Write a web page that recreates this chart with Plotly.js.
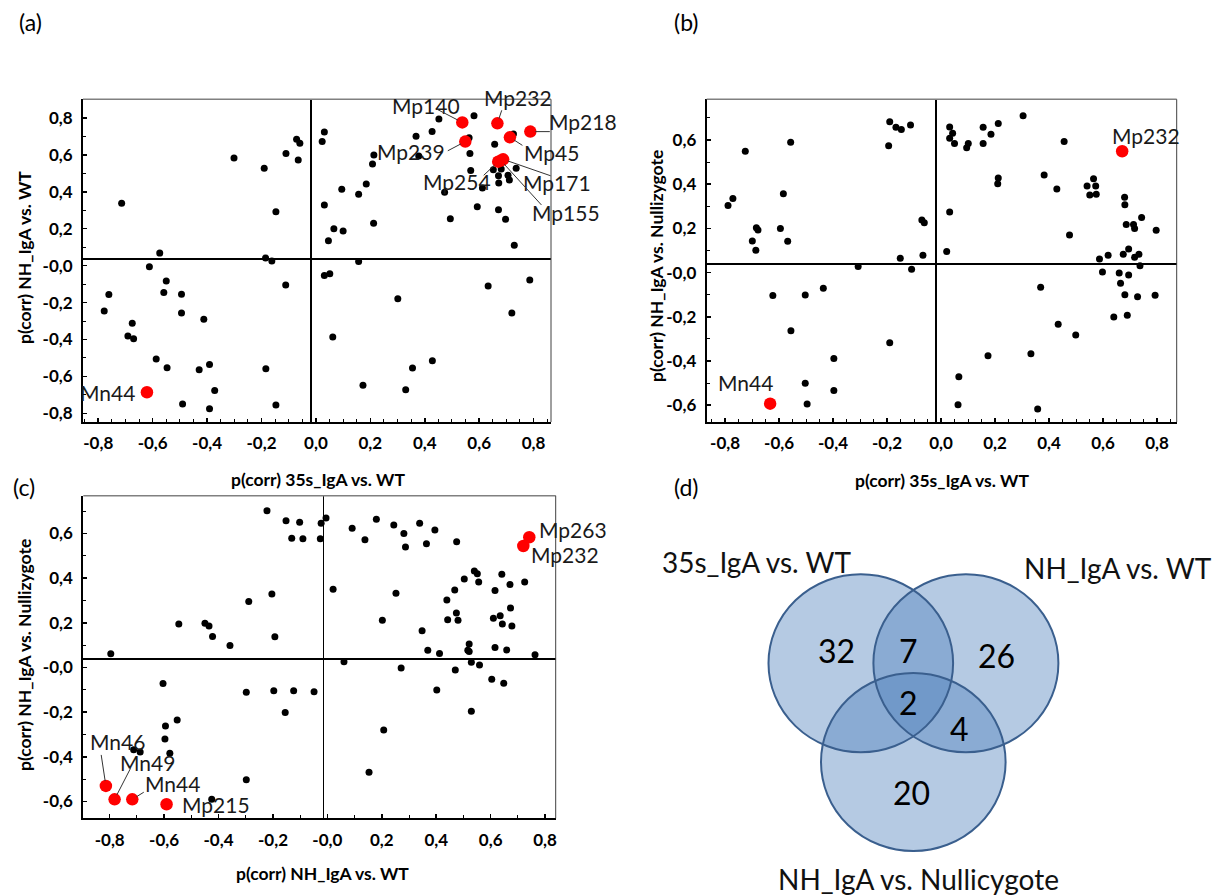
<!DOCTYPE html>
<html><head><meta charset="utf-8">
<script src="https://cdn.plot.ly/plotly-3.0.1.min.js"></script>
<style>html,body{margin:0;padding:0;background:#fff}#chart{width:1216px;height:896px}</style>
</head><body><div id="chart"></div>
<script>
// ---------- Panel (a): x = p(corr) 35s_IgA vs. WT, y = p(corr) NH_IgA vs. WT ----------
const aBlackX = [-0.696,-0.556,-0.594,-0.532,-0.541,-0.476,-0.476,-0.394,-0.743,-0.760,-0.657,-0.673,-0.652,-0.569,-0.529,-0.411,-0.373,-0.354,-0.472,-0.373,-0.166,-0.129,-0.093,-0.167,-0.144,-0.129,-0.283,-0.172,-0.092,-0.053,-0.041,-0.047,
  0.049,0.041,0.231,0.226,0.386,0.445,0.470,0.599,0.396,0.581,0.584,0.675,0.744,0.587,0.670,0.699,0.689,0.724,0.729,0.690,0.754,0.630,0.491,0.611,0.689,0.715,0.512,0.747,0.113,0.175,0.203,0.049,0.084,0.118,0.064,0.230,0.175,0.049,0.069,0.319,0.080,0.191,0.348,0.373,0.446,0.651,0.738,0.804];
const aBlackY = [0.302,0.032,-0.042,-0.119,-0.182,-0.191,-0.293,-0.327,-0.193,-0.282,-0.348,-0.417,-0.432,-0.542,-0.589,-0.600,-0.572,-0.713,-0.785,-0.811,-0.594,-0.791,-0.141,0.005,-0.011,0.256,0.547,0.491,0.572,0.648,0.627,0.536,
  0.688,0.636,0.563,0.515,0.665,0.690,0.758,0.776,0.558,0.657,0.572,0.621,0.677,0.480,0.484,0.488,0.451,0.453,0.428,0.412,0.491,0.385,0.361,0.283,0.267,0.215,0.218,0.074,0.378,0.350,0.406,0.293,0.164,0.152,0.099,0.193,-0.013,-0.090,-0.080,-0.215,-0.423,-0.684,-0.708,-0.590,-0.551,-0.146,-0.293,-0.114];
const aRedNames = ['Mn44','Mp140','Mp232','Mp218','Mp239','Mp45','Mp254','Mp171','Mp155'];
const aRedX = [-0.603,0.556,0.685,0.806,0.567,0.731,0.688,0.706,0.698];
const aRedY = [-0.722,0.740,0.735,0.690,0.636,0.659,0.527,0.540,0.533];

// ---------- Panel (b): x = p(corr) 35s_IgA vs. WT, y = p(corr) NH_IgA vs. Nullizygote ----------
const bBlackX = [-0.769,-0.751,-0.705,-0.664,-0.658,-0.679,-0.666,-0.575,-0.548,-0.564,-0.537,-0.603,-0.483,-0.416,-0.536,-0.377,-0.483,-0.377,-0.476,-0.287,-0.170,-0.147,-0.127,-0.093,-0.174,-0.051,-0.042,-0.131,-0.047,-0.089,-0.170,
  0.052,0.063,0.052,0.070,0.115,0.121,0.176,0.205,0.232,0.176,0.324,0.476,0.232,0.230,0.402,0.449,0.585,0.561,0.593,0.571,0.595,0.700,0.701,0.763,0.706,0.733,0.737,0.817,0.496,0.052,0.041,
  0.607,0.639,0.695,0.715,0.737,0.753,0.757,0.618,0.680,0.715,0.685,0.701,0.748,0.813,0.660,0.710,0.389,0.454,0.519,0.194,0.353,0.086,0.083,0.378];
const bBlackY = [0.264,0.296,0.510,0.164,0.154,0.104,0.062,0.161,0.103,0.318,0.551,-0.143,-0.140,-0.110,-0.302,-0.428,-0.540,-0.573,-0.633,-0.012,0.643,0.618,0.608,0.629,0.535,0.199,0.186,0.026,0.039,-0.024,-0.357,
  0.620,0.591,0.569,0.545,0.526,0.545,0.618,0.587,0.636,0.545,0.671,0.554,0.389,0.363,0.403,0.339,0.385,0.353,0.353,0.312,0.315,0.302,0.268,0.210,0.179,0.179,0.161,0.152,0.131,0.235,0.056,
  0.023,0.039,0.044,0.068,0.030,0.044,-0.008,-0.036,-0.041,-0.050,-0.087,-0.139,-0.148,-0.142,-0.240,-0.232,-0.105,-0.273,-0.321,-0.415,-0.406,-0.510,-0.637,-0.656];
const bRedNames = ['Mn44','Mp232'];
const bRedX = [-0.613,0.691];
const bRedY = [-0.632,0.510];

// ---------- Panel (c): x = p(corr) NH_IgA vs. WT, y = p(corr) NH_IgA vs. Nullizygote ----------
const cBlackX = [-0.781,-0.531,-0.435,-0.420,-0.407,-0.343,-0.274,-0.189,-0.178,-0.207,-0.137,-0.087,-0.116,-0.075,-0.008,-0.011,0.010,-0.589,-0.283,-0.182,-0.109,-0.034,-0.140,-0.580,-0.537,-0.582,-0.697,-0.673,-0.564,-0.283,-0.410,
  0.106,0.153,0.195,0.259,0.296,0.302,0.354,0.379,0.410,0.490,0.036,0.267,0.217,0.363,0.384,0.427,0.454,0.483,0.518,0.555,0.566,0.571,0.457,0.489,0.495,0.536,0.531,0.536,0.631,0.656,
  0.686,0.740,0.688,0.625,0.650,0.658,0.693,0.631,0.674,0.778,0.076,0.286,0.485,0.544,0.574,0.619,0.663,0.417,0.544,0.222,0.168];
const cBlackY = [0.024,0.157,0.160,0.148,0.101,0.060,0.257,0.291,0.100,0.664,0.619,0.612,0.540,0.538,0.608,0.538,0.631,-0.110,-0.149,-0.142,-0.142,-0.146,-0.239,-0.300,-0.273,-0.358,-0.406,-0.416,-0.422,-0.540,-0.628,
  0.585,0.534,0.626,0.600,0.562,0.501,0.608,0.516,0.577,0.525,0.312,0.294,0.173,0.127,0.039,0.025,0.264,0.309,0.358,0.394,0.382,0.345,0.176,0.206,0.174,0.067,0.039,0.034,0.307,0.379,
  0.334,0.345,0.228,0.182,0.194,0.157,0.148,0.052,0.040,0.019,-0.012,-0.040,-0.049,-0.015,-0.027,-0.091,-0.109,-0.139,-0.234,-0.318,-0.507];
const cRedNames = ['Mn46','Mn49','Mn44','Mp215','Mp263','Mp232'];
const cRedX = [-0.799,-0.767,-0.702,-0.576,0.757,0.735];
const cRedY = [-0.568,-0.628,-0.628,-0.650,0.545,0.506];

// ---------- Tick labels ----------
const xTickLabelsAB = ['-0,8','-0,6','-0,4','-0,2','0,0','0,2','0,4','0,6','0,8'];
const yTickLabelsA  = ['-0,8','-0,6','-0,4','-0,2','-0,0','0,2','0,4','0,6','0,8'];
const yTickLabelsBC = ['-0,6','-0,4','-0,2','-0,0','0,2','0,4','0,6'];
const xTickLabelsC  = ['-0,8','-0,6','-0,4','-0,2','-0,0','0,2','0,4','0,6','0,8'];

// ---------- Venn (d) ----------
const vennSetNames = ['35s_IgA vs. WT','NH_IgA vs. WT','NH_IgA vs. Nullicygote'];
const vennRegionCounts = ['32','7','26','2','4','20'];

// ================= layout helpers =================
const W = 1216, H = 896;
const px = v => v / W;
const py = v => 1 - v / H;
const FONT = 'Lato, "Open Sans", sans-serif';

function tickVals(labels, offset) {
  return labels.map(l => parseFloat(l.replace(',', '.')) + offset);
}
function mkAxis(domain, range, labels, offset, minorDtick, anchor, lw, zw) {
  return {
    domain: domain, range: range, anchor: anchor,
    tickmode: 'array', tickvals: tickVals(labels, offset), ticktext: labels,
    ticks: 'inside', ticklen: 4, tickwidth: 1.5, tickcolor: '#000',
    minor: {ticks: 'inside', ticklen: 3, tickwidth: 1, tickcolor: '#000', dtick: minorDtick, tick0: offset},
    showline: true, linecolor: '#000', linewidth: lw,
    showgrid: false, zeroline: true, zerolinecolor: '#000', zerolinewidth: zw,
    tickfont: {family: FONT, size: 17, color: '#000', weight: 'bold'},
    ticklabelstandoff: 5, fixedrange: true
  };
}

const dA = {x: [px(83), px(551)], y: [py(422), py(99.3)]};
const dB = {x: [px(706.7), px(1176.7)], y: [py(422), py(99.3)]};
const dC = {x: [px(83.3), px(555.7)], y: [py(818.3), py(495.7)]};

const layout = {
  width: W, height: H, margin: {l: 0, r: 0, t: 0, b: 0},
  paper_bgcolor: '#fff', plot_bgcolor: '#fff', showlegend: false,
  font: {family: FONT, color: '#000'},
  xaxis:  mkAxis(dA.x, [-0.838, 0.882], xTickLabelsAB, 0.018, 0.05, 'y', 2, 2),
  yaxis:  mkAxis(dA.y, [-0.883, 0.865], yTickLabelsA, -0.036, 0.1, 'x', 2, 2),
  xaxis2: mkAxis(dB.x, [-0.848, 0.893], xTickLabelsAB, 0.02, 0.05, 'y2', 2, 2),
  yaxis2: mkAxis(dB.y, [-0.715, 0.745], yTickLabelsBC, -0.039, 0.1, 'x2', 2, 1.5),
  xaxis3: mkAxis(dC.x, [-0.882, 0.854], xTickLabelsC, 0.015, 0.1, 'y3', 2, 1.5),
  yaxis3: mkAxis(dC.y, [-0.713, 0.731], yTickLabelsBC, -0.038, 0.1, 'x3', 2, 2),
  shapes: [], annotations: []
};

// top/right grey frame lines
[dA, dB, dC].forEach(d => {
  layout.shapes.push({type: 'line', xref: 'paper', yref: 'paper', x0: d.x[0], x1: d.x[1], y0: d.y[1], y1: d.y[1], line: {color: '#808080', width: 1.5}});
  layout.shapes.push({type: 'line', xref: 'paper', yref: 'paper', x0: d.x[1], x1: d.x[1], y0: d.y[0], y1: d.y[1], line: {color: '#404040', width: 1}});
});

// Venn circles (fills first, then outlines)
const vennGeom = [
  {cx: 860.8, cy: 663.2, rx: 92.3, ry: 89},
  {cx: 965.9, cy: 663.2, rx: 92.5, ry: 89},
  {cx: 913.3, cy: 762.0, rx: 92.3, ry: 89}
];
vennGeom.forEach(g => layout.shapes.push({type: 'circle', xref: 'paper', yref: 'paper',
  x0: px(g.cx - g.rx), x1: px(g.cx + g.rx), y0: py(g.cy + g.ry), y1: py(g.cy - g.ry),
  fillcolor: 'rgba(79,129,189,0.42)', line: {width: 0}, layer: 'above'}));
vennGeom.forEach(g => layout.shapes.push({type: 'circle', xref: 'paper', yref: 'paper',
  x0: px(g.cx - g.rx), x1: px(g.cx + g.rx), y0: py(g.cy + g.ry), y1: py(g.cy - g.ry),
  fillcolor: 'rgba(0,0,0,0)', line: {color: '#3a5f8e', width: 2}, layer: 'above'}));

const vennSetPos = [[757, 562], [1118, 568], [918, 879]];
vennSetNames.forEach((t, i) => layout.annotations.push({xref: 'paper', yref: 'paper',
  x: px(vennSetPos[i][0]), y: py(vennSetPos[i][1]), text: t, showarrow: false,
  xanchor: 'center', yanchor: 'middle', font: {family: FONT, size: 28, color: '#111'}}));
const vennCountPos = [[836, 650], [908, 650], [996, 655], [908, 702], [959, 728], [911, 792]];
vennRegionCounts.forEach((t, i) => layout.annotations.push({xref: 'paper', yref: 'paper',
  x: px(vennCountPos[i][0]), y: py(vennCountPos[i][1]), text: t, showarrow: false,
  xanchor: 'center', yanchor: 'middle', font: {family: FONT, size: 32, color: '#000'}}));

// panel letters
[['(a)', 30, 22], ['(b)', 686, 22], ['(c)', 24, 487], ['(d)', 686, 487]].forEach(p =>
  layout.annotations.push({xref: 'paper', yref: 'paper', x: px(p[1]), y: py(p[2]), text: p[0],
    showarrow: false, xanchor: 'center', yanchor: 'middle', font: {family: FONT, size: 23, color: '#000'}}));

// axis titles
function axTitle(text, x, y, angle) {
  layout.annotations.push({xref: 'paper', yref: 'paper', x: px(x), y: py(y), text: text, showarrow: false,
    textangle: angle, xanchor: 'center', yanchor: 'middle', font: {family: FONT, size: 17.5, color: '#000', weight: 'bold'}});
}
axTitle('p(corr) 35s_IgA vs. WT', 318, 479, 0);
axTitle('p(corr) 35s_IgA vs. WT', 942, 480, 0);
axTitle('p(corr) NH_IgA vs. WT', 322, 873, 0);
axTitle('p(corr) NH_IgA vs. WT', 24, 258, -90);
axTitle('p(corr) NH_IgA vs. Nullizygote', 656, 266, -90);
axTitle('p(corr) NH_IgA vs. Nullizygote', 24, 655, -90);

// point labels and leader lines (pixel offsets from the point)
const labelShiftA = {Mn44: [-39, 0], Mp140: [-36, -17], Mp232: [21, -26], Mp218: [53, -10], Mp239: [-54, 10], Mp45: [42, 15], Mp254: [-41, 20], Mp171: [54, 23], Mp155: [65, 52]};
const leaderA = {Mp140: [-27, -14], Mp232: [5, -15], Mp218: [21, 0], Mp239: [-19, 10], Mp45: [14, 9], Mp254: [-16, 15], Mp171: [49, 17], Mp155: [42, 46]};
const labelShiftB = {Mn44: [-25, -21], Mp232: [24, -16]};
const labelShiftC = {Mn46: [12, -44], Mn49: [33, -37], Mn44: [40, -16], Mp215: [49, 0], Mp263: [44, -8], Mp232: [42, 9]};
const leaderC = {Mn46: [-5, -33], Mn49: [17, -33], Mn44: [13, -8]};

function labelAnns(names, xs, ys, shifts, leaders, xref, yref) {
  names.forEach((n, i) => {
    const s = shifts[n];
    layout.annotations.push({xref: xref, yref: yref, x: xs[i], y: ys[i], text: n, showarrow: false,
      xshift: s[0], yshift: -s[1], xanchor: 'center', yanchor: 'middle',
      font: {family: FONT, size: 21, color: '#1a1a1a'}});
    if (leaders[n]) {
      const l = leaders[n];
      layout.annotations.push({xref: xref, yref: yref, x: xs[i], y: ys[i], text: ' ', showarrow: true,
        ax: l[0], ay: l[1], arrowhead: 0, arrowwidth: 1, arrowcolor: '#333', standoff: 5, font: {size: 1}});
    }
  });
}
labelAnns(aRedNames, aRedX, aRedY, labelShiftA, leaderA, 'x', 'y');
labelAnns(bRedNames, bRedX, bRedY, labelShiftB, {}, 'x2', 'y2');
labelAnns(cRedNames, cRedX, cRedY, labelShiftC, leaderC, 'x3', 'y3');

function dots(x, y, xa, ya) {
  return {type: 'scatter', mode: 'markers', x: x, y: y, xaxis: xa, yaxis: ya, hoverinfo: 'skip',
    marker: {color: '#000', size: 7, line: {width: 0}}};
}
function reds(x, y, xa, ya) {
  return {type: 'scatter', mode: 'markers', x: x, y: y, xaxis: xa, yaxis: ya, hoverinfo: 'skip',
    marker: {color: '#ff0000', size: 12.5, line: {width: 0}}};
}
const data = [
  dots(aBlackX, aBlackY, 'x', 'y'), reds(aRedX, aRedY, 'x', 'y'),
  dots(bBlackX, bBlackY, 'x2', 'y2'), reds(bRedX, bRedY, 'x2', 'y2'),
  dots(cBlackX, cBlackY, 'x3', 'y3'), reds(cRedX, cRedY, 'x3', 'y3')
];
Plotly.newPlot('chart', data, layout, {staticPlot: true, displayModeBar: false});
</script>
</body></html>
